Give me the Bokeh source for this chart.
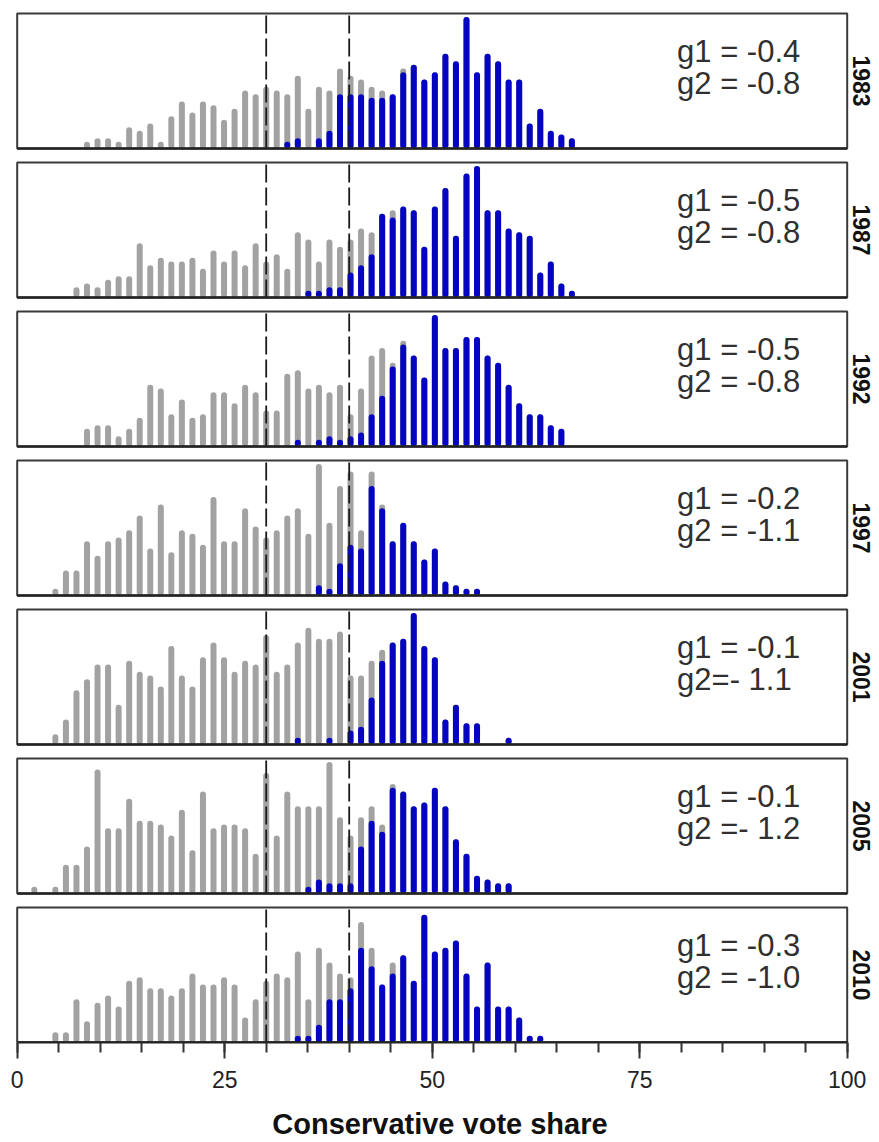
import math
from bokeh.plotting import figure
from bokeh.layouts import column
from bokeh.models import Range1d, Label, FixedTicker, ColumnDataSource
from bokeh.embed import file_html
from bokeh.resources import INLINE

years = ["1983", "1987", "1992", "1997", "2001", "2005", "2010"]
g1_labels = ["g1 = -0.4", "g1 = -0.5", "g1 = -0.5", "g1 = -0.2", "g1 = -0.1", "g1 = -0.1", "g1 = -0.3"]
g2_labels = ["g2 = -0.8", "g2 = -0.8", "g2 = -0.8", "g2 = -1.1", "g2=- 1.1", "g2 =- 1.2", "g2 = -1.0"]

# histogram bins (vote share, %): bin k sits at 30 + (k - 24) * 1.27
bin_index = list(range(2, 54))
bin_centres = [round(30 + (k - 24) * 1.27, 2) for k in bin_index]

# seats per bin: all seats (grey) and seats won by the Conservatives (blue)
total_1983 = [0, 0, 0, 0, 0, 1, 2, 2, 1, 5, 4, 6, 1, 8, 12, 9, 12, 11, 7, 10, 15, 14, 16, 15, 14, 19,
              10, 16, 15, 21, 19, 18, 16, 15, 14, 21, 22, 18, 20, 25, 23, 35, 20, 25, 23, 18, 18, 6, 10, 4, 3, 2]
con_1983 = [0] * 24 + [1, 2, 0, 2, 4, 14, 14, 14, 13, 13, 14, 20, 22, 18, 20, 25, 23, 35, 20, 25, 23, 18,
                       18, 6, 10, 4, 3, 2]

total_1987 = [0, 0, 0, 0, 2, 3, 2, 4, 5, 5, 14, 8, 10, 9, 9, 10, 7, 12, 9, 12, 8, 14, 9, 11, 7, 17,
              15, 9, 15, 13, 15, 18, 17, 22, 23, 24, 23, 13, 24, 29, 16, 33, 35, 23, 23, 18, 17, 16, 6, 9, 3, 1]
con_1987 = [0] * 26 + [1, 1, 2, 2, 6, 8, 11, 22, 21, 24, 23, 13, 24, 29, 16, 33, 35, 23, 23, 18, 17, 16,
                       6, 9, 3, 1]

total_1992 = [0, 0, 0, 0, 0, 4, 5, 5, 2, 4, 7, 16, 15, 8, 12, 7, 8, 14, 14, 11, 16, 14, 9, 9, 19, 20,
              15, 16, 14, 16, 8, 15, 24, 26, 22, 28, 24, 18, 35, 26, 26, 29, 29, 24, 22, 16, 11, 8, 8, 5, 4, 0]
con_1992 = [0] * 25 + [1, 0, 1, 2, 1, 2, 3, 8, 13, 21, 27, 24, 18, 35, 26, 26, 29, 29, 24, 22, 16, 11, 8,
                       8, 5, 4, 0]

total_1997 = [0, 0, 1, 6, 6, 14, 10, 14, 15, 17, 21, 12, 24, 11, 17, 16, 13, 26, 14, 14, 23, 18, 15, 17,
              21, 23, 16, 35, 19, 29, 33, 17, 33, 24, 14, 19, 14, 9, 12, 3, 2, 1, 1, 0, 0, 0, 0, 0, 0, 0, 0, 0]
con_1997 = [0] * 27 + [2, 1, 8, 13, 12, 29, 23, 14, 19, 14, 9, 12, 3, 2, 1, 1] + [0] * 9

total_2001 = [0, 0, 2, 6, 14, 17, 21, 21, 10, 22, 19, 18, 15, 26, 18, 15, 23, 27, 23, 19, 22, 21, 29, 19,
              21, 27, 31, 28, 28, 30, 18, 18, 22, 25, 27, 28, 35, 26, 23, 6, 10, 5, 5, 0, 0, 1, 0, 0, 0, 0, 0, 0]
con_2001 = [0] * 25 + [1, 0, 0, 1, 0, 3, 4, 12, 22, 27, 28, 35, 26, 23, 6, 10, 5, 5, 0, 0, 1] + [0] * 6

total_2005 = [1, 0, 1, 7, 7, 12, 33, 17, 17, 25, 19, 19, 18, 15, 22, 11, 27, 17, 18, 18, 17, 10, 32, 15,
              27, 23, 23, 23, 35, 20, 15, 20, 23, 18, 29, 27, 23, 24, 28, 23, 14, 10, 4, 3, 2, 2, 0, 0, 0, 0, 0, 0]
con_2005 = [0] * 26 + [1, 3, 2, 2, 2, 12, 19, 16, 28, 27, 23, 24, 28, 23, 14, 10, 4, 3, 2, 2] + [0] * 6

total_2010 = [0, 0, 2, 2, 11, 5, 10, 12, 9, 16, 17, 14, 14, 12, 14, 18, 15, 15, 17, 15, 6, 11, 16, 18,
              17, 24, 11, 25, 21, 18, 17, 32, 25, 15, 21, 23, 16, 34, 24, 25, 27, 18, 9, 21, 9, 9, 6, 1, 1, 0, 0, 0]
con_2010 = [0] * 25 + [1, 1, 4, 11, 11, 14, 25, 20, 15, 18, 23, 16, 34, 24, 25, 27, 18, 9, 21, 9, 9, 6,
                       1, 1] + [0] * 3

totals = [total_1983, total_1987, total_1992, total_1997, total_2001, total_2005, total_2010]
cons = [con_1983, con_1987, con_1992, con_1997, con_2001, con_2005, con_2010]

cutoffs = [30, 40]
x_ticks = [0, 25, 50, 75, 100]
x_minor_ticks = list(range(0, 101, 5))
x_title = "Conservative vote share"

GREY = "#a2a2a2"
BLUE = "#0404c2"
FRAME = "#3a3a3a"
FONT = "Liberation Sans"

# geometry (pixels)
PAGE_W = 879
BOX_LEFT = 16.7            # screen x of value 0
PX_X = 8.3                 # pixels per percentage point
Y_TOP = 36.8               # seats at the top edge of each panel box
BOX_H = 135
PX_Y = BOX_H / Y_TOP       # pixels per seat
BAR_W = 6
CAP = (BAR_W / 2) / PX_Y   # round cap length in seat units

x_start = -BOX_LEFT / PX_X
x_end = (PAGE_W - BOX_LEFT) / PX_X

figs = []
n = len(years)
for i, yr in enumerate(years):
    first = i == 0
    last = i == n - 1
    top_off = 13 if first else 7
    fh = 155 if first else (142 if last else 149)
    y_end = Y_TOP + top_off / PX_Y
    y_start = 0 if last else -(fh - top_off - BOX_H) / PX_Y

    p = figure(frame_width=PAGE_W, frame_height=fh, title=None,
               x_range=Range1d(x_start, x_end), y_range=Range1d(y_start, y_end),
               output_backend="svg", toolbar_location=None,
               x_axis_location="below" if last else None, y_axis_location=None,
               min_border_left=0, min_border_right=0, min_border_top=0,
               min_border_bottom=100 if last else 0)
    p.xgrid.visible = False
    p.ygrid.visible = False
    p.background_fill_color = "white"
    p.border_fill_color = "white"
    p.outline_line_color = None

    tot = totals[i]
    con = cons[i]
    st = ColumnDataSource(dict(x=[b for b, v in zip(bin_centres, tot) if v > 0],
                               h=[v for v in tot if v > 0]))
    sc = ColumnDataSource(dict(x=[b for b, v in zip(bin_centres, con) if v > 0],
                               h=[v for v in con if v > 0]))
    p.segment(x0="x", y0=CAP, x1="x", y1="h", source=st, line_color=GREY,
              line_width=BAR_W, line_cap="round")
    p.segment(x0="x", y0=CAP, x1="x", y1="h", source=sc, line_color=BLUE,
              line_width=BAR_W, line_cap="round")

    for c in cutoffs:
        p.segment(x0=[c], y0=[0], x1=[c], y1=[Y_TOP], line_color="#1a1a1a",
                  line_width=1.8, line_dash="18 5")

    # panel box
    p.quad(left=[0], right=[100], bottom=[0], top=[Y_TOP], fill_color=None,
           line_color=FRAME, line_width=2)
    p.segment(x0=[0], y0=[0], x1=[100], y1=[0], line_color="#222222", line_width=2.5)

    p.add_layout(Label(x=79.5, y=26.4, text=g1_labels[i], text_font=FONT, text_font_size="31px",
                       text_color="#303030", text_align="left", text_baseline="alphabetic"))
    p.add_layout(Label(x=79.5, y=17.6, text=g2_labels[i], text_font=FONT, text_font_size="31px",
                       text_color="#303030", text_align="left", text_baseline="alphabetic"))
    p.add_layout(Label(x=101.75, y=Y_TOP / 2, text=yr, angle=-math.pi / 2, text_font=FONT,
                       text_font_size="23px", text_font_style="bold", text_color="#111111",
                       text_align="center", text_baseline="alphabetic"))

    if last:
        ax = p.xaxis[0]
        ax.bounds = (0, 100)
        ax.ticker = FixedTicker(ticks=x_ticks, minor_ticks=x_minor_ticks)
        ax.axis_line_color = "#222222"
        ax.axis_line_width = 2
        ax.major_tick_in = 0
        ax.major_tick_out = 16
        ax.minor_tick_in = 0
        ax.minor_tick_out = 10
        ax.major_tick_line_color = "#333333"
        ax.major_tick_line_width = 2
        ax.minor_tick_line_color = "#333333"
        ax.minor_tick_line_width = 2
        ax.major_label_text_font = FONT
        ax.major_label_text_font_size = "23px"
        ax.major_label_text_color = "#222222"
        ax.major_label_standoff = 12
        ax.axis_label = x_title
        ax.axis_label_text_font = FONT
        ax.axis_label_text_font_size = "29px"
        ax.axis_label_text_font_style = "bold"
        ax.axis_label_text_color = "#111111"
        ax.axis_label_standoff = 17
    figs.append(p)

layout = column(*figs, spacing=0)
open("out.html", "w").write(file_html(layout, INLINE))
